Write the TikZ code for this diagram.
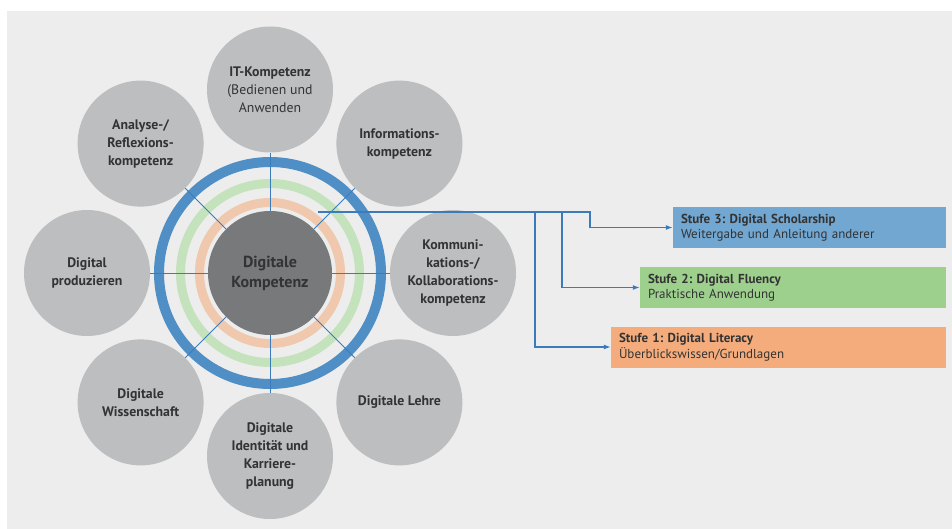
\documentclass[tikz,border=0pt]{standalone}
\usepackage{fontspec}
\setmainfont{PT Sans}
\usetikzlibrary{arrows.meta}
\frenchspacing

\definecolor{hgrund}{HTML}{EDEDED}
\definecolor{kreisgrau}{HTML}{BDBEC0}
\definecolor{kerngrau}{HTML}{77797B}
\definecolor{ringblau}{HTML}{4F8FC5}
\definecolor{ringgruen}{HTML}{C4E2BC}
\definecolor{ringorange}{HTML}{EFC8AD}
\definecolor{linienblau}{HTML}{3C7BB9}
\definecolor{stufeblau}{HTML}{72A7D2}
\definecolor{stufegruen}{HTML}{9DD08D}
\definecolor{stufeorange}{HTML}{F4AC7D}
\definecolor{schrift}{HTML}{333333}

\tikzset{
  feld/.style={circle, fill=kreisgrau, minimum size=126pt, inner sep=0pt, align=center, text=schrift, font=\fontsize{13.8}{18}\selectfont\bfseries},
  stufe/.style={rectangle, minimum height=41pt, inner xsep=8pt, align=left, text=schrift, font=\fontsize{13}{15.5}\selectfont},
  verbinder/.style={linienblau, line width=1.2pt, arrows=-{Latex[length=7pt,width=5pt]}},
}

\begin{document}
\begin{tikzpicture}[x=1pt,y=-1pt]
		\useasboundingbox (0,0) rectangle (952,529);
		\fill[hgrund] (7,11) rectangle (952,529);
		
		% Ringe
		\draw[line width=10pt, ringblau] (270,273) circle (111pt);
		\draw[line width=9pt, ringgruen] (270,273) circle (89.5pt);
		\draw[line width=9pt, ringorange] (270,273) circle (70.5pt);
		
		\node[circle, fill=kerngrau, minimum size=124pt, inner sep=0pt, align=center, text=schrift, font=\fontsize{16}{20}\selectfont\bfseries] (kern) at (270,273) {Digitale\\Kompetenz};
		
		\node[feld] (it) at (270,89.5) {IT-Kompetenz\\{\mdseries(Bedienen und}\\{\mdseries Anwenden}};
		\node[feld] (info) at (399.4,143.6) {Informations-\\kompetenz};
		\node[feld] (komm) at (453,273) {Kommuni-\\kations-/\\Kollaborations-\\kompetenz};
		\node[feld] (lehre) at (399.4,402.4) {Digitale Lehre};
		\node[feld] (ident) at (270,456) {Digitale\\Identität und\\Karriere-\\planung};
		\node[feld] (wiss) at (140.6,402.4) {Digitale\\Wissenschaft};
		\node[feld] (prod) at (87,273) {Digital\\produzieren};
		\node[feld] (analyse) at (140.6,143.6) {Analyse-/\\Reflexions-\\kompetenz};
		
		\foreach \feldname in {it,info,komm,lehre,ident,wiss,prod,analyse}
			\draw[linienblau, line width=0.8pt] (kern) -- (\feldname);
		
		% Stufen
		\node[stufe, fill=stufeblau, text width=257pt] (stufe3) at (809.5,227.5) {\textbf{Stufe 3: Digital Scholarship}\\Weitergabe und Anleitung anderer};
		\node[stufe, fill=stufegruen, text width=290pt] (stufe2) at (793,287.5) {\textbf{Stufe 2: Digital Fluency}\\Praktische Anwendung};
		\node[stufe, fill=stufeorange, text width=319pt] (stufe1) at (778.5,347) {\textbf{Stufe 1: Digital Literacy}\\Überblickswissen/Grundlagen};
		
		\coordinate (abgang) at (318,212);
		\coordinate (knick1) at (535,212);
		\coordinate (knick2) at (562,212);
		\coordinate (knick3) at (590,212);
		\draw[verbinder] (abgang) -- (knick3) |- (stufe3);
		\draw[verbinder] (knick2) |- (stufe2);
		\draw[verbinder] (knick1) |- (stufe1);
		
\end{tikzpicture}
\end{document}
